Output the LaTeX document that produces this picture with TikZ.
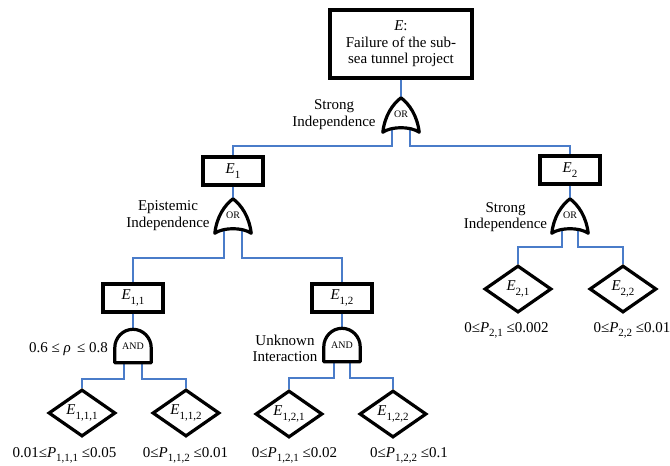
\documentclass[tikz,border=0pt]{standalone}
\usepackage{fontspec}
\setmainfont{Liberation Serif}
\usetikzlibrary{shapes.geometric}

\definecolor{wireblue}{RGB}{74,124,201}

% text sizes
\newcommand\txtsize{\fontsize{15}{16.5}\selectfont}
\newcommand\gatesize{\fontsize{10}{11}\selectfont}
% lowered index in a smaller size
\newcommand\idx[1]{\raisebox{-0.28em}{\fontsize{11}{11}\selectfont #1}}
% italic symbol with an index
\newcommand\sym[2]{{\itshape #1}\idx{#2}}

% OR gate outline drawn on a sized, empty node
\newcommand\orshape[1]{%
  \draw[gateline] (#1.south west)
    .. controls ([shift={(2,-17)}]#1.south west) and ([shift={(-8,6)}]#1.north) .. (#1.north)
    .. controls ([shift={(8,6)}]#1.north) and ([shift={(-2,-17)}]#1.south east) .. (#1.south east)
    .. controls ([shift={(-9,-6)}]#1.south east) and ([shift={(9,-6)}]#1.south west) .. cycle;}
% AND gate outline: flat base, straight sides, round top
\newcommand\andshape[1]{%
  \draw[gateline] (#1.south west) -- ([shift={(0,-15)}]#1.south west)
    .. controls ([shift={(0,-25)}]#1.south west) and ([shift={(-10,0)}]#1.north) .. (#1.north)
    .. controls ([shift={(10,0)}]#1.north) and ([shift={(0,-25)}]#1.south east) .. ([shift={(0,-15)}]#1.south east)
    -- (#1.south east) -- cycle;}

\begin{document}
\begin{tikzpicture}[x=1pt,y=-1pt,
  evbox/.style={draw, line width=3.2pt, minimum width=60pt, minimum height=28pt,
    inner sep=0pt, font=\txtsize},
  topbox/.style={evbox, minimum width=142pt, minimum height=68pt, align=center},
  basic/.style={diamond, draw, line width=3.2pt, minimum width=67pt,
    minimum height=47pt, inner sep=0pt, font=\txtsize},
  orgate/.style={minimum width=36pt, minimum height=34pt, inner sep=0pt},
  andgate/.style={minimum width=36pt, minimum height=33pt, inner sep=0pt},
  gateline/.style={draw=black, fill=white, line width=3.2pt, line join=round},
  gatetext/.style={font=\gatesize, inner sep=0pt},
  wire/.style={draw=wireblue, line width=1.8pt},
  note/.style={align=center, font=\txtsize, inner sep=0pt},
  bound/.style={font=\txtsize, inner sep=0pt}]

\useasboundingbox (0,0) rectangle (670,466);

% events
\node[topbox] (top) at (401,44) {{\itshape E}:\\Failure of the sub-\\sea tunnel project};
\node[evbox] (E1) at (233,171) {\sym{E}{1}};
\node[evbox] (E2) at (570,170) {\sym{E}{2}};
\node[evbox] (E11) at (133,298) {\sym{E}{1,1}};
\node[evbox] (E12) at (342,298) {\sym{E}{1,2}};

% basic events
\node[basic] (E111) at (82,413) {\sym{E}{1,1,1}};
\node[basic] (E112) at (186,413) {\sym{E}{1,1,2}};
\node[basic] (E121) at (289,414) {\sym{E}{1,2,1}};
\node[basic] (E122) at (393,414) {\sym{E}{1,2,2}};
\node[basic] (E21) at (518,289) {\sym{E}{2,1}};
\node[basic] (E22) at (623,289) {\sym{E}{2,2}};

% gate placeholders
\node[orgate] (g0) at (401,115) {};
\node[orgate] (g1) at (233,216) {};
\node[orgate] (g2) at (570,216) {};
\node[andgate] (a11) at (133,346) {};
\node[andgate] (a12) at (342,345) {};

% connectors
\draw[wire] (top.south) -- (g0.north);
\draw[wire] ([shift={(-9,-5)}]g0.south) -- ++(0,19) -| (E1.north);
\draw[wire] ([shift={(9,-5)}]g0.south) -- ++(0,19) -| (E2.north);
\draw[wire] (E1.south) -- (g1.north);
\draw[wire] ([shift={(-9,-5)}]g1.south) -- ++(0,30) -| (E11.north);
\draw[wire] ([shift={(9,-5)}]g1.south) -- ++(0,30) -| (E12.north);
\draw[wire] (E2.south) -- (g2.north);
\draw[wire] ([shift={(-8,-5)}]g2.south) -- ++(0,19) -| (E21.north);
\draw[wire] ([shift={(8,-5)}]g2.south) -- ++(0,19) -| (E22.north);
\draw[wire] (E11.south) -- (a11.north);
\draw[wire] ([shift={(-9,-2)}]a11.south) -- ++(0,18) -| (E111.north);
\draw[wire] ([shift={(9,-2)}]a11.south) -- ++(0,18) -| (E112.north);
\draw[wire] (E12.south) -- (a12.north);
\draw[wire] ([shift={(-8,-2)}]a12.south) -- ++(0,18) -| (E121.north);
\draw[wire] ([shift={(8,-2)}]a12.south) -- ++(0,18) -| (E122.north);

% gates
\orshape{g0}
\orshape{g1}
\orshape{g2}
\andshape{a11}
\andshape{a12}
\node[gatetext] (t0) at ([yshift=1]g0.center) {OR};
\node[gatetext] (t1) at ([yshift=1]g1.center) {OR};
\node[gatetext] (t2) at ([yshift=1]g2.center) {OR};
\node[gatetext] (t11) at (a11.center) {AND};
\node[gatetext] (t12) at (a12.center) {AND};

% gate annotations
\node[note] (n0) at (334,114.5) {Strong\\Independence};
\node[note] (n1) at (168,215.5) {Epistemic\\Independence};
\node[note] (n2) at (505.5,217) {Strong\\Independence};
\node[note] (n12) at (285,348.5) {Unknown\\Interaction};
\node[bound] (n11) at (68.5,349) {0.6 ≤ {\itshape ρ}\, ≤ 0.8};

% probability bounds
\node[bound] (p111) at (64.5,455) {0.01≤\sym{P}{1,1,1} ≤0.05};
\node[bound] (p112) at (185.5,455) {0≤\sym{P}{1,1,2} ≤0.01};
\node[bound] (p121) at (294.5,455) {0≤\sym{P}{1,2,1} ≤0.02};
\node[bound] (p122) at (409,455) {0≤\sym{P}{1,2,2} ≤0.1};
\node[bound] (p21) at (506.5,330) {0≤\sym{P}{2,1} ≤0.002};
\node[bound] (p22) at (632,330) {0≤\sym{P}{2,2} ≤0.01};
\end{tikzpicture}
\end{document}
